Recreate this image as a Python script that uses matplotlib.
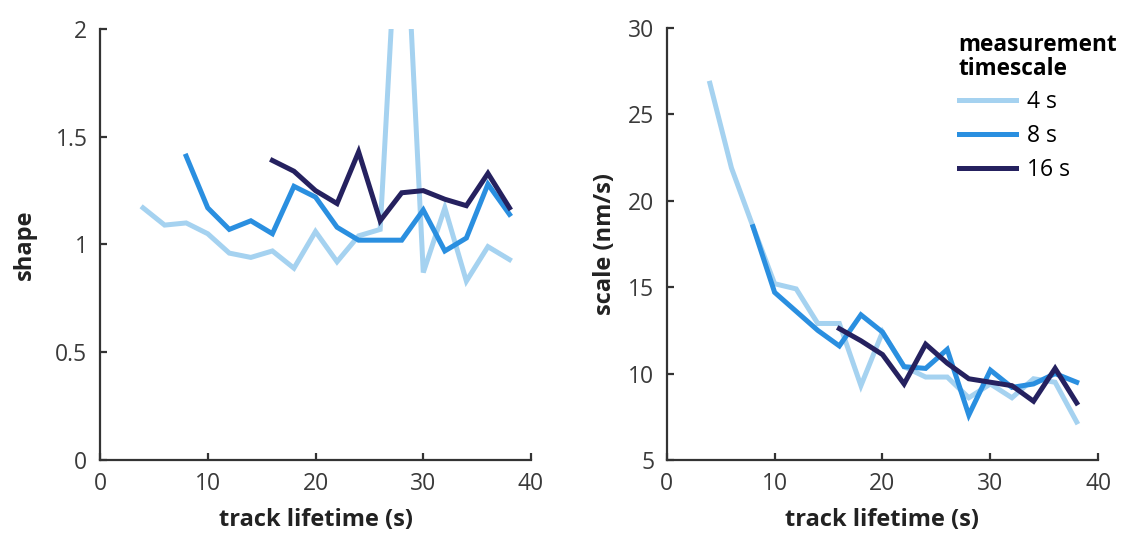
import matplotlib
matplotlib.use("Agg")
import matplotlib.pyplot as plt

plt.rcParams['font.family'] = ['Open Sans', 'DejaVu Sans']

# track lifetime (s) for each measurement timescale
lifetime_4s = [4, 6, 8, 10, 12, 14, 16, 18, 20, 22, 24, 26, 28, 30, 32, 34, 36, 38]
lifetime_8s = [8, 10, 12, 14, 16, 18, 20, 22, 24, 26, 28, 30, 32, 34, 36, 38]
lifetime_16s = [16, 18, 20, 22, 24, 26, 28, 30, 32, 34, 36, 38]

# shape parameter
shape_4s = [1.17, 1.09, 1.10, 1.05, 0.96, 0.94, 0.97, 0.89, 1.06, 0.92, 1.04, 1.07,
            2.90, 0.87, 1.17, 0.83, 0.99, 0.93]
shape_8s = [1.41, 1.17, 1.07, 1.11, 1.05, 1.27, 1.22, 1.08, 1.02, 1.02, 1.02,
            1.16, 0.97, 1.03, 1.28, 1.14]
shape_16s = [1.39, 1.34, 1.25, 1.19, 1.43, 1.11, 1.24, 1.25, 1.21, 1.18, 1.33, 1.17]

# scale parameter (nm/s)
scale_4s = [26.8, 21.9, 18.5, 15.2, 14.9, 12.9, 12.9, 9.3, 12.4, 10.4, 9.8, 9.8,
            8.6, 9.4, 8.6, 9.7, 9.5, 7.2]
scale_8s = [18.5, 14.7, 13.6, 12.5, 11.6, 13.4, 12.4, 10.4, 10.3, 11.4, 7.6,
            10.2, 9.2, 9.4, 10.0, 9.5]
scale_16s = [12.6, 11.9, 11.1, 9.4, 11.7, 10.6, 9.7, 9.5, 9.3, 8.4, 10.3, 8.3]

labels = ["4 s", "8 s", "16 s"]
colors = ["#a5d2f0", "#2a8fe0", "#25215f"]
axis_color = "#333333"
fs_tick = 16.5
fs_lab = 17

fig = plt.figure(figsize=(11.27, 5.39), dpi=100)
ax1 = fig.add_axes([0.0887, 0.1466, 0.3825, 0.7996])
ax2 = fig.add_axes([0.5916, 0.1466, 0.3829, 0.8015])


def style(ax):
    for side in ["top", "right"]:
        ax.spines[side].set_visible(False)
    for side in ["left", "bottom"]:
        ax.spines[side].set_color(axis_color)
        ax.spines[side].set_linewidth(1.6)
    ax.tick_params(direction="in", length=5, width=1.6, colors=axis_color,
                   labelsize=fs_tick, pad=9, labelcolor="#3a3a3a")
    ax.set_xlim(0, 40)
    ax.set_xticks([0, 10, 20, 30, 40])
    ax.set_xlabel("track lifetime (s)", fontsize=fs_lab, fontweight="bold",
                  color="#222222", labelpad=8)


xs = [lifetime_4s, lifetime_8s, lifetime_16s]
for x, y, c, lab in zip(xs, [shape_4s, shape_8s, shape_16s], colors, labels):
    ax1.plot(x, y, color=c, lw=3.6, label=lab, solid_joinstyle="miter")
style(ax1)
ax1.set_ylim(0, 2)
ax1.set_yticks([0, 0.5, 1, 1.5, 2])
ax1.set_yticklabels(["0", "0.5", "1", "1.5", "2"])
ax1.set_ylabel("shape", fontsize=fs_lab, fontweight="bold", color="#222222", labelpad=13)

for x, y, c, lab in zip(xs, [scale_4s, scale_8s, scale_16s], colors, labels):
    ax2.plot(x, y, color=c, lw=3.6, label=lab, solid_joinstyle="miter")
style(ax2)
ax2.set_ylim(5, 30)
ax2.set_yticks([5, 10, 15, 20, 25, 30])
ax2.set_ylabel("scale (nm/s)", fontsize=fs_lab, fontweight="bold", color="#222222", labelpad=8)

leg = ax2.legend(title="measurement\ntimescale", loc="upper left",
                 bbox_to_anchor=(0.655, 1.01), frameon=False, fontsize=fs_tick,
                 handlelength=2.5, handletextpad=0.5, labelspacing=0.42,
                 borderaxespad=0)
leg.get_title().set_fontweight("bold")
leg.get_title().set_fontsize(16.3)
leg._legend_box.align = "left"
leg.get_title().set_linespacing(1.0)

fig.savefig("out.png", dpi=100)
